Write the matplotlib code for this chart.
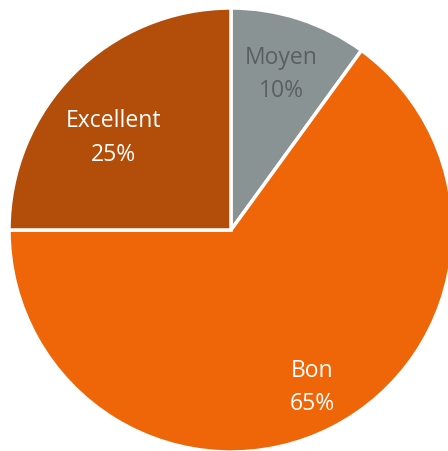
import matplotlib
matplotlib.use("Agg")
import matplotlib.pyplot as plt

categories = ["Moyen", "Bon", "Excellent"]
values = [10, 65, 25]
colors = ["#8a9394", "#ee6608", "#b34e0a"]
text_colors = ["#5a6061", "white", "white"]
label_pos = [(0.226, 0.70), (0.367, -0.71), (-0.529, 0.415)]

W, H = 448, 451
fig = plt.figure(figsize=(W / 100, H / 100), dpi=100)
cx, cy, r = 231, 230, 222
ax = fig.add_axes([(cx - r) / W, (H - cy - r) / H, 2 * r / W, 2 * r / H])
ax.pie(values, colors=colors, startangle=90, counterclock=False, radius=1,
       wedgeprops=dict(edgecolor="white", linewidth=2.5))
ax.set_xlim(-1, 1)
ax.set_ylim(-1, 1)
ax.set_aspect("equal")
ax.axis("off")

for cat, v, (x, y), tc in zip(categories, values, label_pos, text_colors):
    ax.text(x, y, f"{cat}\n{v}%", ha="center", va="center", color=tc,
            fontsize=16.5, family=["Open Sans", "DejaVu Sans"], linespacing=1.52)

fig.savefig("out.png", dpi=100)
